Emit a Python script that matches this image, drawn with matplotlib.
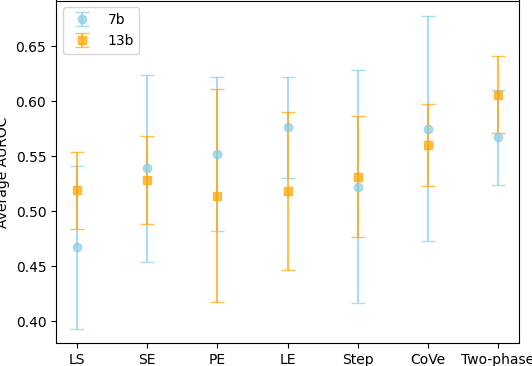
import matplotlib
matplotlib.use("Agg")
import matplotlib.pyplot as plt
import numpy as np

methods = ["LS", "SE", "PE", "LE", "Step", "CoVe", "Two-phase"]
mean_7b = [0.467, 0.539, 0.552, 0.576, 0.522, 0.575, 0.567]
err_7b = [0.074, 0.085, 0.070, 0.046, 0.106, 0.102, 0.043]
mean_13b = [0.519, 0.528, 0.514, 0.518, 0.531, 0.560, 0.606]
err_13b = [0.035, 0.040, 0.097, 0.072, 0.055, 0.037, 0.035]

fig = plt.figure(figsize=(5.32, 3.66), dpi=100)
ax = fig.add_axes([56/532, 23/366, 463/532, 342.5/366])

x = np.arange(len(methods))
ax.errorbar(x, mean_7b, yerr=err_7b, fmt='o', color='skyblue', ecolor='skyblue',
            capsize=5, markersize=6, elinewidth=1.5, alpha=0.7, label='7b')
ax.errorbar(x, mean_13b, yerr=err_13b, fmt='s', color='orange', ecolor='orange',
            capsize=5, markersize=6, elinewidth=1.5, alpha=0.7, label='13b')

ax.set_xticks(x)
ax.set_xticklabels(methods)
ax.set_xlim(-0.3, 6.3)
ax.set_ylim(0.380, 0.6915)
ax.set_ylabel("Average AUROC")
ax.legend(loc='upper left')

fig.savefig("out.png", dpi=100)
